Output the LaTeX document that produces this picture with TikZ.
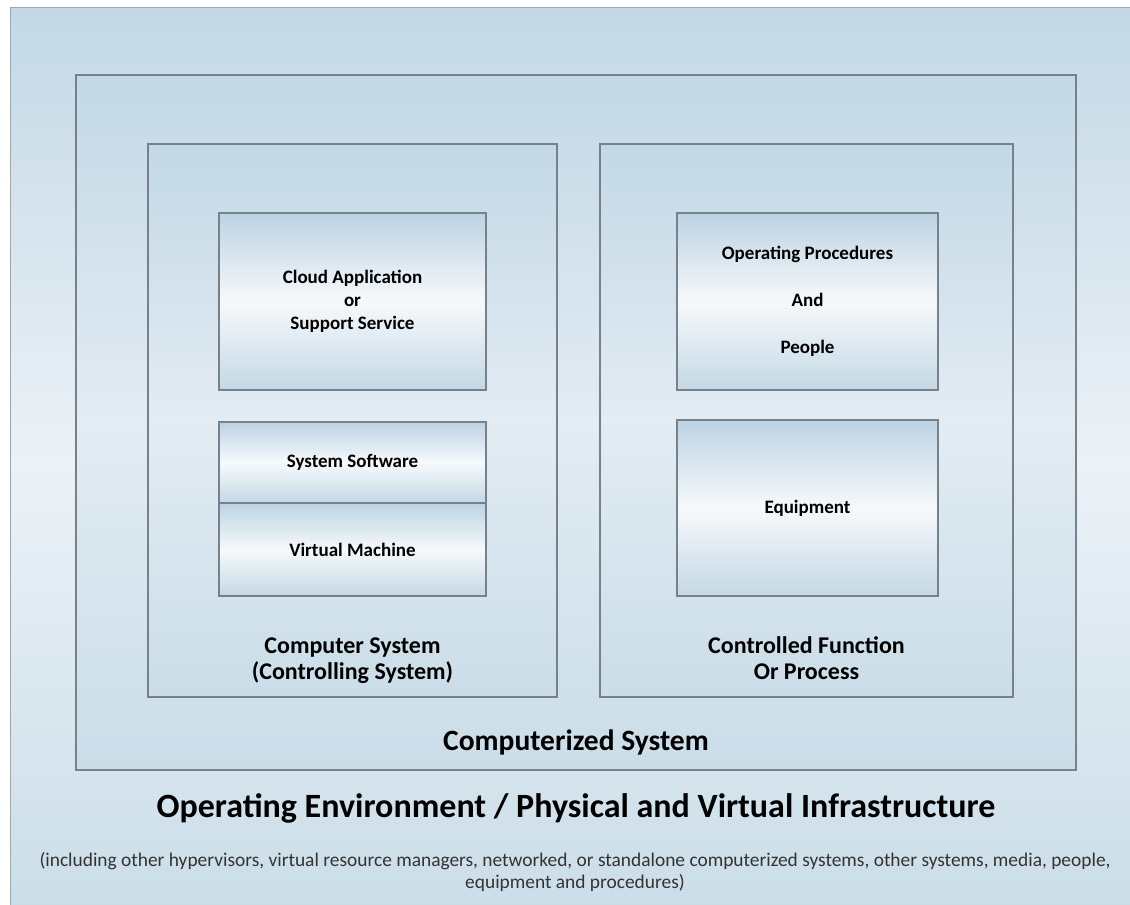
\documentclass[tikz,border=0pt]{standalone}
\usepackage{fontspec}
\setmainfont{Carlito}
\usepackage{xcolor}
\usetikzlibrary{positioning}
\definecolor{glasstop}{HTML}{BCD3E3}
\definecolor{glassmid}{HTML}{F6F9FB}
\definecolor{glassbot}{HTML}{C4D8E5}
\definecolor{paneltop}{HTML}{C3D8E6}
\definecolor{panelmid}{HTML}{E3ECF3}
\definecolor{panelbot}{HTML}{CADDE8}
\definecolor{frame}{HTML}{76818B}

\tikzset{
  envbox/.style={draw=frame!70, line width=1.2pt, top color=paneltop, bottom color=panelbot, middle color=panelmid!70!white, inner sep=0pt},
  panel/.style={draw=frame, line width=1.3pt, top color=paneltop, bottom color=panelbot, middle color=panelmid, inner sep=0pt},
  glass/.style={draw=frame, line width=1.3pt, top color=glasstop, bottom color=glassbot, middle color=glassmid, inner sep=0pt, align=center, font=\fontsize{19}{23}\selectfont\bfseries},
  caption/.style={align=center, font=\fontsize{24}{26}\selectfont\bfseries},
}

\begin{document}
\begin{tikzpicture}[x=1pt,y=-1pt]
		\useasboundingbox (0,0) rectangle (1130,905);
		\clip (0,0) rectangle (1130,905);
		%
		\node[envbox, anchor=north west, minimum width=1140, minimum height=910] (env) at (10,7) {};
		\node[panel, minimum width=1000, minimum height=695] (csys) at (576,422.5) {};
		\node[panel, minimum width=409, minimum height=553] (ctrl) at (352.5,420.5) {};
		\node[panel, minimum width=413, minimum height=553] (func) at (806.5,420.5) {};
		%
		\node[glass, minimum width=267, minimum height=177] (cloud) at (352.5,301.5) {Cloud Application\\or\\Support Service};
		\node[glass, minimum width=267, minimum height=81] (syssw) at (352.5,462.5) {System Software};
		\node[glass, minimum width=267, minimum height=93] (vm) at (352.5,549.5) {Virtual Machine};
		\node[glass, minimum width=261, minimum height=177] (proc) at (807.5,301.5) {Operating Procedures\\[24pt]And\\[24pt]People};
		\node[glass, minimum width=261, minimum height=176] (equip) at (807.5,508) {Equipment};
		%
		\node[caption] (ctrllbl) at (352.5,661) {\strut Computer System\\\strut(Controlling System)};
		\node[caption] (funclbl) at (806.5,661) {\strut Controlled Function\\\strut Or Process};
		\node[caption, font=\fontsize{29.5}{32}\selectfont\bfseries] (csyslbl) at (576,742) {Computerized System};
		\node[caption, font=\fontsize{34}{36}\selectfont\bfseries] (envlbl) at (576,808) {Operating Environment / Physical and Virtual Infrastructure};
		\node[align=center, font=\fontsize{19.4}{22}\selectfont, text=black!80] (envnote) at (575,872) {(including other hypervisors, virtual resource managers, networked, or standalone computerized systems, other systems, media, people,\\equipment and procedures)};
\end{tikzpicture}
\end{document}
